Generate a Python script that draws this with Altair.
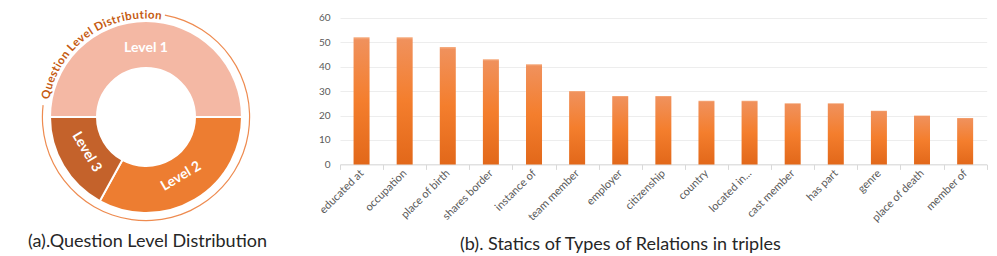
import math
import altair as alt
import pandas as pd

# ---------------- data ----------------
levels = ["Level 1", "Level 2", "Level 3"]
level_share = [50, 33, 17]
level_colors = ["#F4B8A4", "#ED7D31", "#C4622B"]

relations = ["educated at", "occupation", "place of birth", "shares border", "instance of",
             "team member", "employer", "citizenship", "country", "located in...",
             "cast member", "has part", "genre", "place of death", "member of"]
counts = [52, 52, 48, 43, 41, 30, 28, 28, 26, 26, 25, 25, 22, 20, 19]
y_ticks = [0, 10, 20, 30, 40, 50, 60]

ring_title = "Question Level Distribution"
caption_a = "(a).Question Level Distribution"
caption_b = "(b). Statics of Types of Relations in triples"

# ---------------- donut tables ----------------
START = 270.0
starts, ends = [], []
acc = START
for v in level_share:
    starts.append(acc)
    acc += v * 360.0 / sum(level_share)
    ends.append(acc)
mids = [(a + b) / 2 for a, b in zip(starts, ends)]
rots = []
for m in mids:
    mm = m % 360
    rots.append((mm - 180) % 360 if 90 < mm < 270 else mm)
donut_df = pd.DataFrame({"level": levels, "start": starts, "end": ends, "mid": mids, "rot": rots})

ring_line_df = pd.DataFrame({"a0": [10.5], "a1": [276.6]})

# curved title: one character per row along the ring
em = {"Q": .80, "u": .57, "e": .53, "s": .44, "t": .37, "i": .26, "o": .57, "n": .57, " ": .22,
      "L": .49, "v": .52, "l": .26, "D": .74, "r": .39, "b": .58}
T_FONT = 11.5
T_RADIUS = 98.5
TRACK = 0.45
cum = 0.0
ch_ang, ch_rot = [], []
for c in ring_title:
    w = em.get(c, .5) * T_FONT + TRACK
    centre_px = cum + w / 2
    ang = 280.0 + math.degrees(centre_px / T_RADIUS)
    ch_ang.append(ang)
    ch_rot.append(ang % 360)
    cum += w
title_df = pd.DataFrame({"ch": list(ring_title), "ang": ch_ang, "rot": ch_rot})

theta_scale = alt.Scale(domain=[0, 360], range=[0, 2 * math.pi])

arcs = alt.Chart(donut_df).mark_arc(innerRadius=49, outerRadius=96, stroke="white", strokeWidth=2).encode(
    theta=alt.Theta("start:Q", scale=theta_scale, stack=None),
    theta2="end:Q",
    color=alt.Color("level:N", scale=alt.Scale(domain=levels, range=level_colors), legend=None),
)
labels = alt.Chart(donut_df).mark_text(radius=69, font="Lato", fontSize=14, fontWeight="bold",
                                       color="white", align="center", baseline="middle").encode(
    theta=alt.Theta("mid:Q", scale=theta_scale, stack=None),
    text="level:N",
    angle=alt.Angle("rot:Q", scale=None),
)
ring_line = alt.Chart(ring_line_df).mark_arc(innerRadius=103, outerRadius=104.2, color="#EE8B50").encode(
    theta=alt.Theta("a0:Q", scale=theta_scale, stack=None),
    theta2="a1:Q",
)
ring_text = alt.Chart(title_df).mark_text(radius=T_RADIUS, font="Lato", fontSize=T_FONT, fontWeight="bold",
                                          color="#C55A11", align="center", baseline="alphabetic",
                                          clip=True).encode(
    theta=alt.Theta("ang:Q", scale=theta_scale, stack=None),
    text="ch:N",
    angle=alt.Angle("rot:Q", scale=None),
)

left = alt.layer(arcs, labels, ring_line, ring_text).properties(
    width=276, height=218,
    title=alt.TitleParams(caption_a, orient="bottom", frame="group", anchor="middle", baseline="alphabetic",
                          offset=21, dx=1.5, font="Lato", fontSize=18, fontWeight="normal", color="#262626"),
)

# ---------------- bars ----------------
bar_df = pd.DataFrame({"relation": relations, "count": counts})
gradient = alt.Gradient(
    gradient="linear",
    stops=[alt.GradientStop(color="#F6AE82", offset=0),
           alt.GradientStop(color="#F0915C", offset=0.02),
           alt.GradientStop(color="#F47E2D", offset=0.5),
           alt.GradientStop(color="#E2681A", offset=1)],
    x1=0, x2=0, y1=0, y2=1,
)
bars = alt.Chart(bar_df).mark_bar(size=16, color=gradient).encode(
    x=alt.X("relation:N", sort=relations, scale=alt.Scale(paddingInner=0, paddingOuter=0),
            axis=alt.Axis(title=None, labelAngle=-45, labelAlign="right", labelBaseline="middle",
                          labelFont="Lato", labelFontSize=11, labelColor="#595959",
                          domainColor="#D9D9D9", tickColor="#D9D9D9", tickSize=5, tickBand="extent",
                          labelPadding=2, grid=False)),
    y=alt.Y("count:Q", scale=alt.Scale(domain=[0, 64], nice=False),
            axis=alt.Axis(title=None, values=y_ticks, domain=False, ticks=False, labelFont="Lato",
                          labelFontSize=10, labelColor="#595959", labelPadding=10,
                          gridColor="#EDEDED", gridWidth=1)),
).properties(
    width=646.7, height=156.4,
    title=alt.TitleParams(caption_b, orient="bottom", frame="group", anchor="middle", baseline="alphabetic",
                          offset=27, dx=-43, font="Lato", fontSize=18, fontWeight="normal", color="#262626"),
)

chart = alt.hconcat(left, bars, spacing=56, bounds="flush").configure_view(stroke=None).properties(padding=0)

chart.save("out.html", embed_options={"renderer": "svg", "actions": False})
